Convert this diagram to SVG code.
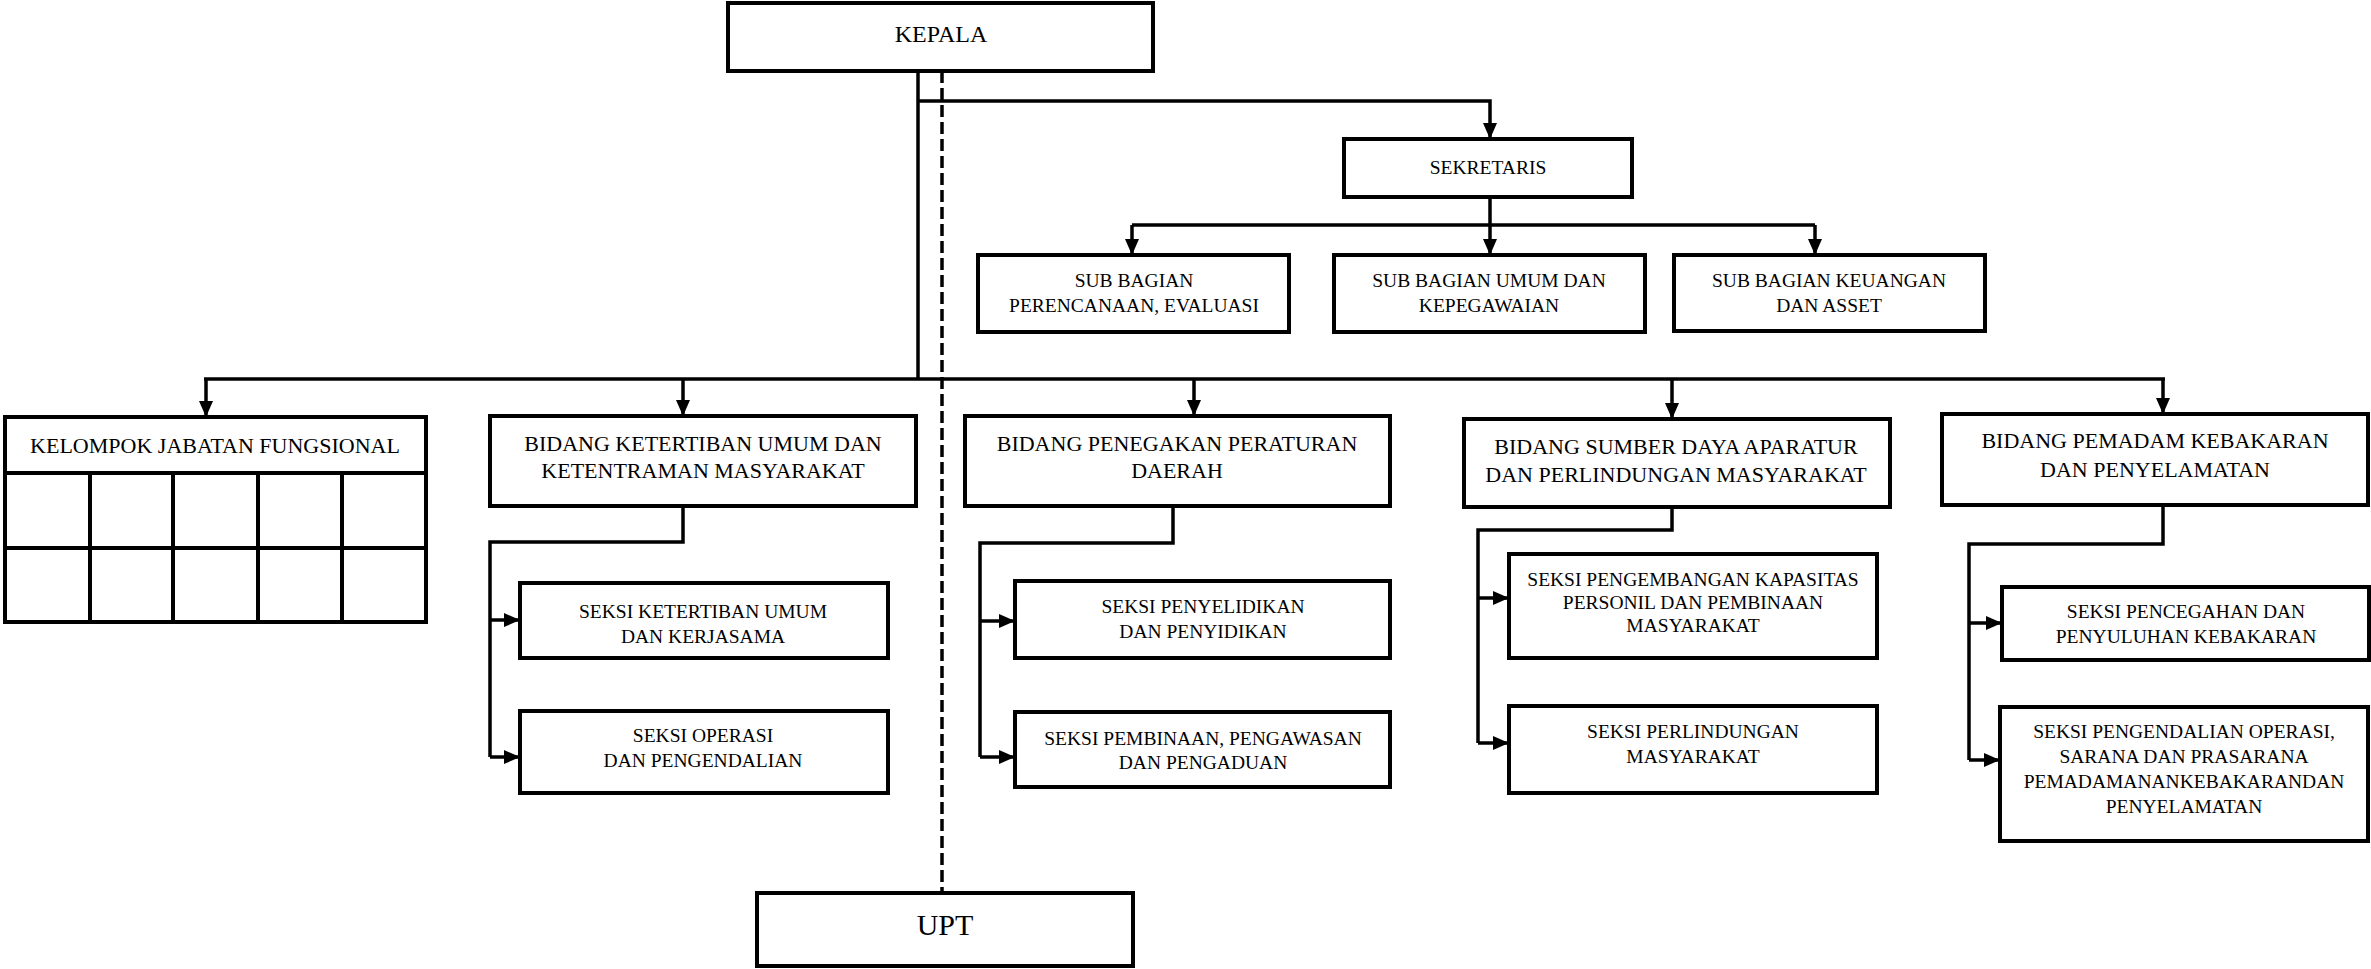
<svg xmlns="http://www.w3.org/2000/svg" width="2371" height="969" viewBox="0 0 2371 969">
<style>
.box{fill:#fff;stroke:#000;stroke-width:4}
.ln{fill:none;stroke:#000;stroke-width:3.5}
.arr{fill:none;stroke:#000;stroke-width:3.5;marker-end:url(#ah)}
.dash{fill:none;stroke:#000;stroke-width:3.5;stroke-dasharray:12 5}
text{font-family:"Liberation Serif","Times New Roman",serif;fill:#000;text-anchor:middle}
.t24{font-size:24px}
.t22{font-size:22px}
.t20{font-size:19.5px}
.t30{font-size:30px}
</style>
<defs>
<marker id="ah" viewBox="0 0 16 14" refX="15" refY="7" markerWidth="16" markerHeight="14" markerUnits="userSpaceOnUse" orient="auto">
<path d="M0,0 L16,7 L0,14 z" fill="#000"/>
</marker>
</defs>
<g id="connectors">
<path class="ln" d="M918,71 V379"/>
<path class="arr" d="M918,101 H1490 V138"/>
<path class="dash" d="M942,71 V893"/>
<path class="arr" d="M1490,197 V254"/>
<path class="ln" d="M1132,225 H1815"/>
<path class="arr" d="M1132,225 V254"/>
<path class="arr" d="M1815,225 V254"/>
<path class="ln" d="M204,379 H2165"/>
<path class="arr" d="M206,379 V416"/>
<path class="arr" d="M683,379 V415"/>
<path class="arr" d="M1194,379 V415"/>
<path class="arr" d="M1672,379 V418"/>
<path class="arr" d="M2163,379 V413"/>
<path class="ln" d="M683,506 V542 H490 V757"/>
<path class="arr" d="M490,620 H519"/>
<path class="arr" d="M490,757 H519"/>
<path class="ln" d="M1173,506 V543 H980 V757"/>
<path class="arr" d="M980,621 H1014"/>
<path class="arr" d="M980,757 H1014"/>
<path class="ln" d="M1672,507 V530 H1478 V743"/>
<path class="arr" d="M1478,598 H1508"/>
<path class="arr" d="M1478,743 H1508"/>
<path class="ln" d="M2163,505 V544 H1969 V760"/>
<path class="arr" d="M1969,623 H2001"/>
<path class="arr" d="M1969,760 H1999"/>
</g>
<g id="kepala">
<rect class="box" x="728" y="3" width="425" height="68"/>
<text class="t24" x="941" y="42">KEPALA</text>
</g>
<g id="sekretaris">
<rect class="box" x="1344" y="139" width="288" height="58"/>
<text class="t20" x="1488" y="174">SEKRETARIS</text>
</g>
<g id="sub-perencanaan">
<rect class="box" x="978" y="255" width="311" height="77"/>
<text class="t20" x="1134" y="287">SUB BAGIAN</text>
<text class="t20" x="1134" y="312">PERENCANAAN, EVALUASI</text>
</g>
<g id="sub-umum">
<rect class="box" x="1334" y="255" width="311" height="77"/>
<text class="t20" x="1489" y="287">SUB BAGIAN UMUM DAN</text>
<text class="t20" x="1489" y="312">KEPEGAWAIAN</text>
</g>
<g id="sub-keuangan">
<rect class="box" x="1674" y="255" width="311" height="76"/>
<text class="t20" x="1829" y="287">SUB BAGIAN KEUANGAN</text>
<text class="t20" x="1829" y="312">DAN ASSET</text>
</g>
<g id="kelompok">
<rect class="box" x="5" y="417" width="421" height="205"/>
<path class="ln" d="M5,473 H426 M5,548 H426 M90,473 V622 M173,473 V622 M258,473 V622 M342,473 V622" style="stroke-width:4"/>
<text class="t22" x="215" y="453">KELOMPOK JABATAN FUNGSIONAL</text>
</g>
<g id="bidang-ketertiban">
<rect class="box" x="490" y="416" width="426" height="90"/>
<text class="t22" x="703" y="451">BIDANG KETERTIBAN UMUM DAN</text>
<text class="t22" x="703" y="478">KETENTRAMAN MASYARAKAT</text>
</g>
<g id="seksi-ketertiban">
<rect class="box" x="520" y="583" width="368" height="75"/>
<text class="t20" x="703" y="618">SEKSI KETERTIBAN UMUM</text>
<text class="t20" x="703" y="643">DAN KERJASAMA</text>
</g>
<g id="seksi-operasi">
<rect class="box" x="520" y="711" width="368" height="82"/>
<text class="t20" x="703" y="742">SEKSI OPERASI</text>
<text class="t20" x="703" y="767">DAN PENGENDALIAN</text>
</g>
<g id="bidang-penegakan">
<rect class="box" x="965" y="416" width="425" height="90"/>
<text class="t22" x="1177" y="451">BIDANG PENEGAKAN PERATURAN</text>
<text class="t22" x="1177" y="478">DAERAH</text>
</g>
<g id="seksi-penyelidikan">
<rect class="box" x="1015" y="581" width="375" height="77"/>
<text class="t20" x="1203" y="613">SEKSI PENYELIDIKAN</text>
<text class="t20" x="1203" y="638">DAN PENYIDIKAN</text>
</g>
<g id="seksi-pembinaan">
<rect class="box" x="1015" y="712" width="375" height="75"/>
<text class="t20" x="1203" y="745">SEKSI PEMBINAAN, PENGAWASAN</text>
<text class="t20" x="1203" y="769">DAN PENGADUAN</text>
</g>
<g id="bidang-sumber-daya">
<rect class="box" x="1464" y="419" width="426" height="88"/>
<text class="t22" x="1676" y="454">BIDANG SUMBER DAYA APARATUR</text>
<text class="t22" x="1676" y="482">DAN PERLINDUNGAN MASYARAKAT</text>
</g>
<g id="seksi-pengembangan">
<rect class="box" x="1509" y="554" width="368" height="104"/>
<text class="t20" x="1693" y="586">SEKSI PENGEMBANGAN KAPASITAS</text>
<text class="t20" x="1693" y="609">PERSONIL DAN PEMBINAAN</text>
<text class="t20" x="1693" y="632">MASYARAKAT</text>
</g>
<g id="seksi-perlindungan">
<rect class="box" x="1509" y="706" width="368" height="87"/>
<text class="t20" x="1693" y="738">SEKSI PERLINDUNGAN</text>
<text class="t20" x="1693" y="763">MASYARAKAT</text>
</g>
<g id="bidang-pemadam">
<rect class="box" x="1942" y="414" width="426" height="91"/>
<text class="t22" x="2155" y="448">BIDANG PEMADAM KEBAKARAN</text>
<text class="t22" x="2155" y="477">DAN PENYELAMATAN</text>
</g>
<g id="seksi-pencegahan">
<rect class="box" x="2002" y="587" width="367" height="73"/>
<text class="t20" x="2186" y="618">SEKSI PENCEGAHAN DAN</text>
<text class="t20" x="2186" y="643">PENYULUHAN KEBAKARAN</text>
</g>
<g id="seksi-pengendalian">
<rect class="box" x="2000" y="707" width="368" height="134"/>
<text class="t20" x="2184" y="738">SEKSI PENGENDALIAN OPERASI,</text>
<text class="t20" x="2184" y="763">SARANA DAN PRASARANA</text>
<text class="t20" x="2184" y="788">PEMADAMANANKEBAKARANDAN</text>
<text class="t20" x="2184" y="813">PENYELAMATAN</text>
</g>
<g id="upt">
<rect class="box" x="757" y="893" width="376" height="73"/>
<text class="t30" x="945" y="935">UPT</text>
</g>
</svg>
